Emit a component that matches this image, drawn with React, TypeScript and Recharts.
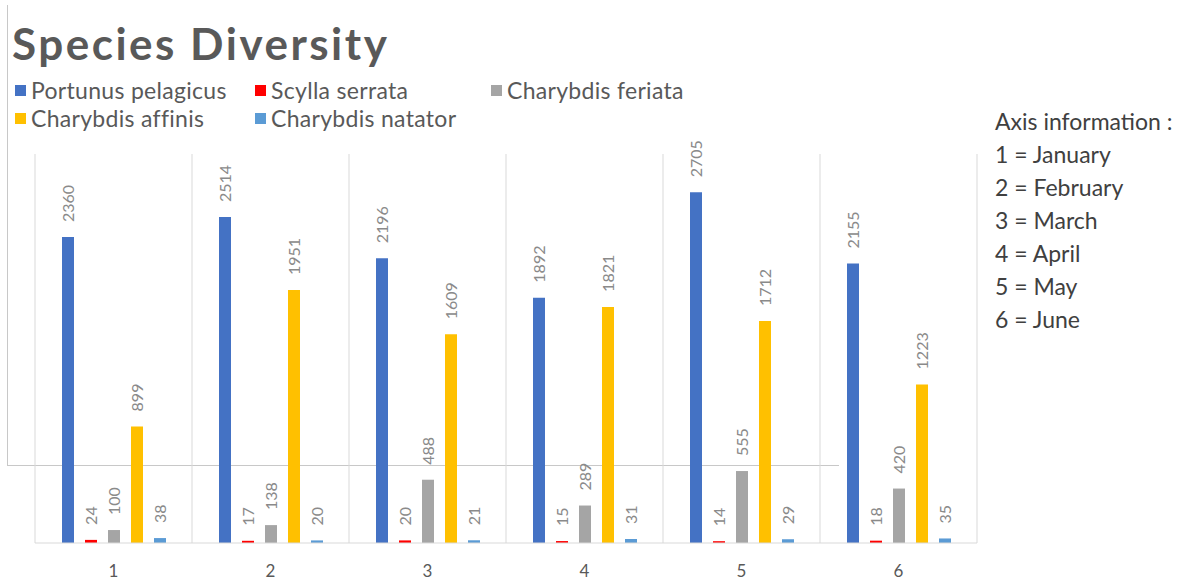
import React from 'react';
import { BarChart, Bar, XAxis, YAxis, CartesianGrid, LabelList } from 'recharts';

const months = ['1', '2', '3', '4', '5', '6'];
const portunus = [2360, 2514, 2196, 1892, 2705, 2155];
const scylla = [24, 17, 20, 15, 14, 18];
const feriata = [100, 138, 488, 289, 555, 420];
const affinis = [899, 1951, 1609, 1821, 1712, 1223];
const natator = [38, 20, 21, 31, 29, 35];

const axisInfo = ['1 = January', '2 = February', '3 = March', '4 = April', '5 = May', '6 = June'];

const SERIES = [
  { key: 'portunus', name: 'Portunus pelagicus', color: '#4472C4' },
  { key: 'scylla', name: 'Scylla serrata', color: '#FF0000' },
  { key: 'feriata', name: 'Charybdis feriata', color: '#A5A5A5' },
  { key: 'affinis', name: 'Charybdis affinis', color: '#FFC000' },
  { key: 'natator', name: 'Charybdis natator', color: '#5B9BD5' },
];

const data = months.map((m, i) => ({
  month: m,
  portunus: portunus[i],
  scylla: scylla[i],
  feriata: feriata[i],
  affinis: affinis[i],
  natator: natator[i],
}));

const FONT = 'Lato, "Open Sans", sans-serif';

// vertical value label, reading bottom-to-top above the bar
const RotLabel = (props: any) => {
  const { x, y, width, value } = props;
  const cx = x + width / 2;
  const ty = y - 15;
  return (
    <text
      x={cx}
      y={ty}
      transform={`rotate(-90 ${cx} ${ty})`}
      textAnchor="start"
      dominantBaseline="central"
      fill="#8a8a8a"
      fontSize={16}
      fontFamily={FONT}
    >
      {value}
    </text>
  );
};

// legend rows as in the original: 3 items then 2 items
const legendRows = [
  [SERIES[0], SERIES[1], SERIES[2]],
  [SERIES[3], SERIES[4]],
];
const legendCols = [15, 255, 491];

export default function App() {
  return (
    <div
      style={{
        position: 'absolute',
        left: 0,
        top: 0,
        width: 1180,
        height: 582,
        background: '#fff',
        fontFamily: FONT,
        overflow: 'hidden',
      }}
    >
      {/* stray frame from the source figure */}
      <div
        style={{
          position: 'absolute',
          left: 7,
          top: 5,
          width: 831,
          height: 460,
          borderLeft: '1px solid #c8c8c8',
          borderBottom: '1px solid #c8c8c8',
        }}
      />

      <div
        style={{
          position: 'absolute',
          left: 12,
          top: 16,
          fontSize: 44,
          fontWeight: 700,
          letterSpacing: 2.5,
          color: '#595959',
          lineHeight: '54px',
        }}
      >
        Species Diversity
      </div>

      {legendRows.map((row, r) =>
        row.map((s, c) => (
          <div
            key={s.key}
            style={{
              position: 'absolute',
              left: legendCols[c],
              top: 77 + r * 28,
              height: 26,
              display: 'flex',
              alignItems: 'center',
              fontSize: 23,
              letterSpacing: 0.3,
              color: '#595959',
              whiteSpace: 'nowrap',
            }}
          >
            <span
              style={{ width: 11, height: 11, background: s.color, display: 'inline-block', marginRight: 5 }}
            />
            {s.name}
          </div>
        ))
      )}

      <div
        style={{
          position: 'absolute',
          left: 995,
          top: 105,
          fontSize: 23,
          lineHeight: '33px',
          color: '#404040',
          whiteSpace: 'nowrap',
        }}
      >
        <div>Axis information :</div>
        {axisInfo.map((t) => (
          <div key={t}>{t}</div>
        ))}
      </div>

      <div style={{ position: 'absolute', left: 0, top: 0 }}>
        <BarChart
          width={1180}
          height={582}
          data={data}
          margin={{ top: 154, right: 203, bottom: 0, left: 35 }}
          barSize={12}
          barGap={11}
        >
          <CartesianGrid
            horizontal={false}
            stroke="#d9d9d9"
            verticalCoordinatesGenerator={({ offset }: any) =>
              months.map((_, i) => offset.left + (i * offset.width) / months.length).concat(offset.left + offset.width)
            }
          />
          <XAxis
            dataKey="month"
            height={39}
            axisLine={{ stroke: '#d9d9d9' }}
            tickLine={false}
            tickMargin={16}
            tick={{ fill: '#595959', fontSize: 17, fontFamily: FONT }}
          />
          <YAxis hide domain={[0, 3000]} />
          {SERIES.map((s) => (
            <Bar key={s.key} dataKey={s.key} name={s.name} fill={s.color} isAnimationActive={false}>
              <LabelList dataKey={s.key} content={RotLabel} />
            </Bar>
          ))}
        </BarChart>
      </div>
    </div>
  );
}
